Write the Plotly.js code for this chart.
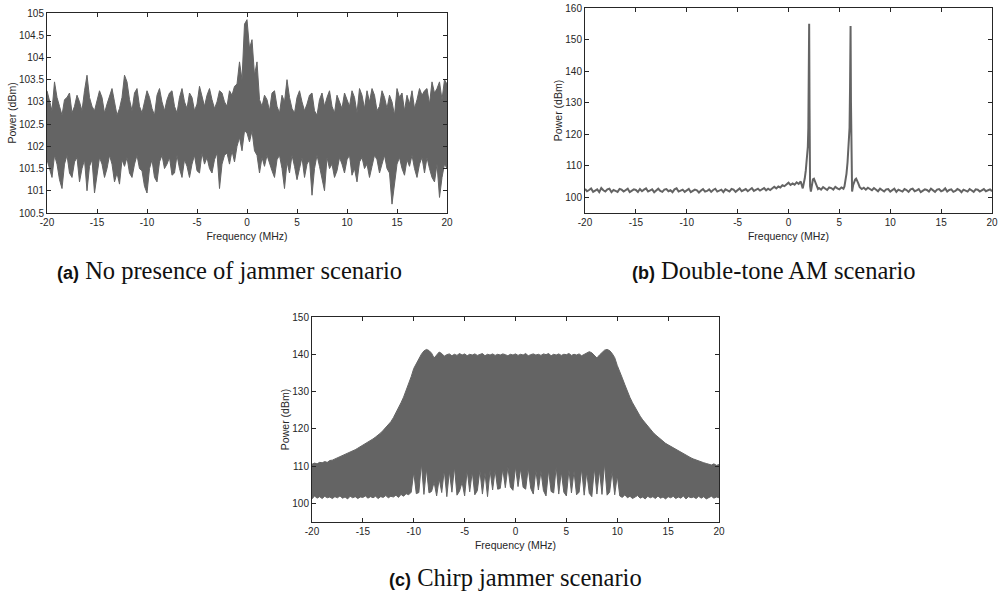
<!DOCTYPE html>
<html>
<head>
<meta charset="utf-8">
<script src="https://cdn.plot.ly/plotly-3.0.1.min.js"></script>
<style>html,body{margin:0;padding:0;background:#fff;}#chart{width:999px;height:592px;}</style>
</head>
<body>
<div id="chart"></div>
<script>
// ---------- DATA ----------
// (a) No jammer: upper / lower envelope of the spectrum, x = -20..20 step 0.25 MHz
const upperA = [
103.25,103.0,102.8,103.45,103.1,102.9,102.7,103.05,
103.1,103.2,102.75,102.9,103.15,103.0,102.8,103.25,
103.6,103.1,102.9,102.8,103.0,103.25,103.1,102.75,
102.95,103.15,103.3,103.0,102.7,102.85,103.1,103.6,
103.45,103.05,102.8,103.2,103.3,102.9,102.75,103.0,
103.25,103.1,102.85,102.7,103.15,103.3,103.0,102.8,
103.05,103.2,103.25,102.9,102.75,103.1,103.3,103.0,
102.85,103.2,103.1,102.8,102.95,103.35,103.1,102.9,
103.15,103.3,103.05,102.85,103.0,103.25,103.2,103.0,
102.9,103.25,103.15,103.35,103.4,103.9,103.5,104.75,
104.85,104.2,104.4,103.6,103.9,103.05,102.9,103.15,
103.05,102.8,103.2,103.25,102.9,102.75,103.15,103.0,
103.5,103.1,102.85,102.75,103.1,103.25,103.0,102.8,
102.95,103.15,103.2,102.8,102.7,103.05,103.2,102.9,
103.1,103.25,102.9,102.75,103.15,103.0,102.85,103.2,
103.05,102.9,103.25,103.1,102.75,103.3,103.15,102.85,
103.25,103.0,103.3,103.15,102.8,102.9,103.25,103.1,
102.85,103.15,103.0,102.7,103.3,103.1,103.2,102.8,
103.15,102.95,103.25,102.85,103.05,103.3,103.15,103.25,
103.3,102.95,103.45,103.2,103.3,103.45,103.05,103.5,
103.4];
const lowerA = [
101.7,101.5,101.3,101.8,101.6,101.25,101.05,101.6,
101.8,101.4,101.3,101.65,101.75,101.2,101.5,101.7,
101.0,101.55,101.7,100.95,101.4,101.75,101.6,101.3,
101.5,101.8,101.6,101.2,101.4,101.15,101.7,101.55,
101.75,101.4,101.3,101.6,101.8,101.5,101.45,101.1,
100.95,101.5,101.7,101.3,101.2,101.65,101.8,101.5,
101.6,101.75,101.35,101.4,101.8,101.5,101.3,101.7,
101.55,101.3,101.6,101.8,101.45,101.4,101.85,101.6,
101.75,101.5,101.4,101.7,101.85,101.05,101.6,101.8,
101.85,101.6,101.9,101.65,102.0,102.2,101.9,102.35,
102.3,102.1,102.35,101.9,101.8,101.4,101.75,101.55,
101.8,101.6,101.45,101.3,101.7,101.8,101.5,101.05,
101.65,101.4,101.8,101.55,101.25,101.5,101.75,101.3,
101.6,101.7,100.9,101.5,101.8,101.55,101.3,101.0,
101.75,101.5,101.6,101.3,101.45,101.75,101.6,101.4,
101.7,101.8,101.35,101.5,101.2,101.65,101.75,101.5,
101.6,101.3,101.55,101.8,101.7,101.4,101.6,101.8,
101.5,101.4,100.7,101.1,101.6,101.75,101.5,101.35,
101.7,101.55,101.8,101.5,101.3,101.6,101.75,101.4,
101.75,101.5,101.3,101.2,101.6,100.85,101.3,101.6,
101.5];

// (b) Double-tone AM: spectrum line
const yB_left = [ // x = -20 .. 1.4 step 0.2
102.6,101.9,102.3,102.8,101.7,102.1,102.5,101.6,102.9,102.2,
101.8,102.5,102.7,101.6,102.3,102.0,101.7,102.6,102.4,101.8,
102.2,102.7,101.6,102.0,102.5,102.3,101.7,102.6,101.9,102.4,
102.8,101.8,102.1,102.5,101.6,102.3,102.7,102.0,101.7,102.4,
102.6,101.9,102.2,101.6,102.5,102.8,101.8,102.1,102.4,101.7,
102.3,102.6,101.6,101.9,102.4,102.2,101.5,102.1,102.6,101.8,
102.0,102.5,101.7,102.3,102.7,101.8,102.1,102.4,101.6,102.5,
102.2,101.8,102.6,102.4,101.7,102.3,102.8,101.9,102.2,102.6,
101.9,102.5,102.9,102.0,102.4,102.7,102.1,102.6,102.9,102.2,
102.7,102.3,102.9,103.3,102.8,103.4,103.1,103.8,103.5,104.1,
104.6,103.9,104.4,104.0,104.7,104.2,105.0,102.8];
const xB_peak1 = [1.5,1.6,1.7,1.8,1.9,1.95,2.0,2.03,2.07,2.12,2.2,2.3,2.4,2.5,2.6,2.7,2.8,2.9,3.0];
const yB_peak1 = [104.2,106.0,108.5,112.0,116.0,122.0,140.0,155.0,128.0,103.5,101.8,104.0,105.7,105.9,105.2,104.3,103.3,102.6,102.9];
const yB_mid = [102.4,103.2,102.7,102.3,103.1,102.9,102.4,103.3,102.8,102.5,103.1,102.7]; // x = 3.2 .. 5.4 step 0.2
const xB_peak2 = [5.5,5.6,5.7,5.8,5.9,6.0,6.05,6.1,6.14,6.18,6.25,6.35,6.45,6.55,6.65,6.75,6.85,7.0,7.2,7.4];
const yB_peak2 = [103.4,105.0,107.5,111.0,116.0,122.0,135.0,154.3,130.0,104.0,101.8,103.8,105.0,105.6,105.9,105.4,104.5,103.2,102.6,103.0];
const yB_right = [ // x = 7.6 .. 20 step 0.2
102.4,103.0,102.6,102.2,102.9,102.5,101.9,102.7,102.3,101.8,
102.5,102.6,101.8,102.2,102.7,101.7,102.4,102.1,101.8,102.6,
102.3,101.7,102.5,102.7,101.9,102.2,102.6,101.6,102.0,102.5,
102.3,101.8,102.7,102.1,101.7,102.4,102.6,101.9,102.2,102.8,
101.8,102.3,102.5,101.7,102.0,102.6,102.3,101.6,102.4,102.1,
101.8,102.6,102.2,101.7,102.5,102.4,101.8,102.1,102.6,101.9,
102.3,102.5,101.9];

// (c) Chirp jammer: upper / lower envelope, x = -20..20 step 0.25 MHz
const upperC = [
110.5,110.8,110.6,111.0,110.9,111.2,111.0,111.5,
111.6,111.9,112.2,112.4,112.8,113.0,113.4,113.8,
114.0,114.4,114.8,115.2,115.5,115.9,116.3,116.8,
117.3,117.8,118.3,118.9,119.6,120.3,121.0,121.9,
123.0,124.2,125.5,127.0,128.5,130.2,132.0,134.0,
136.2,137.6,138.9,140.0,140.9,141.3,141.0,140.3,
139.0,139.8,140.6,140.2,139.5,139.9,140.1,139.6,
140.0,139.7,140.2,139.8,140.1,139.6,140.0,139.8,
140.1,139.7,139.9,140.2,139.6,140.0,139.8,140.1,
139.7,140.0,139.8,140.1,139.9,139.6,140.0,139.8,
140.1,139.7,140.0,139.8,140.2,139.6,139.9,140.1,
139.8,140.0,139.7,140.1,139.9,140.2,139.6,140.0,
139.8,140.1,139.7,140.0,139.9,140.2,139.7,140.0,
139.8,140.1,139.6,140.0,140.3,140.7,140.4,139.6,
139.0,139.8,140.6,141.1,141.3,141.0,140.2,139.1,
137.0,135.5,133.6,131.8,130.0,128.4,127.0,125.7,
124.5,123.4,122.4,121.5,120.6,119.8,119.1,118.4,
117.8,117.2,116.6,116.1,115.7,115.3,114.9,114.5,
114.0,113.6,113.2,112.8,112.5,112.2,111.9,111.6,
111.4,111.1,110.9,110.7,110.5,110.3,110.6,110.2,
110.4];
const lowerC = [
101.2,102.0,101.4,101.8,101.3,101.9,101.5,101.7,
101.3,101.8,101.5,102.0,101.4,101.7,101.2,101.9,
101.5,101.8,101.3,101.7,101.6,102.0,101.4,101.8,
101.5,101.9,101.3,101.8,101.6,102.1,101.5,101.9,
101.7,102.2,101.6,102.4,101.9,102.6,102.3,103.0,
108.4,102.6,102.9,110.7,102.4,109.3,102.8,103.2,
105.7,102.0,106.6,102.9,108.9,101.8,108.6,103.0,
109.8,102.2,103.3,105.7,102.0,108.9,103.1,108.5,
102.3,103.4,108.9,102.5,108.2,101.8,108.9,103.6,
108.9,103.8,104.0,109.3,104.2,109.8,104.4,103.5,
109.8,104.5,109.3,104.3,103.8,109.5,104.0,102.5,
108.9,103.6,108.6,103.4,102.0,108.9,103.2,102.8,
109.8,102.5,108.5,103.0,102.0,109.0,102.8,108.6,
102.3,103.0,109.3,102.2,108.4,102.7,101.8,109.5,
102.5,108.9,102.4,110.7,102.2,103.0,108.6,102.3,
107.5,
102.0,101.6,102.3,101.5,101.9,101.3,101.8,102.1,
101.4,101.7,101.2,101.9,101.5,101.8,101.3,102.0,
101.4,101.7,101.2,101.8,101.5,101.9,101.3,101.7,
101.4,102.0,101.2,101.8,101.5,101.7,101.3,101.9,
101.4,101.8,101.2,101.6,101.9,101.4,101.7,101.5];

const xTicks = [-20,-15,-10,-5,0,5,10,15,20];
const yTicksA = [100.5,101,101.5,102,102.5,103,103.5,104,104.5,105];
const yTicksB = [100,110,120,130,140,150,160];
const yTicksC = [100,110,120,130,140,150];
const captions = ['(a)','No presence of jammer scenario','(b)','Double-tone AM scenario','(c)','Chirp jammer scenario'];

// ---------- BUILD ----------
function grid(a, step, n){ const g=[]; for(let i=0;i<n;i++) g.push(Math.round((a+i*step)*1000)/1000); return g; }
const xEnv = grid(-20, 0.25, 161);
const xB = grid(-20,0.2,yB_left.length).concat(xB_peak1, grid(3.2,0.2,yB_mid.length), xB_peak2, grid(7.6,0.2,yB_right.length));
const yB = yB_left.concat(yB_peak1, yB_mid, yB_peak2, yB_right);

const C = '#646464';
const traces = [
  {x:xEnv, y:upperA, xaxis:'x', yaxis:'y', mode:'lines', line:{color:C,width:1}, hoverinfo:'skip', showlegend:false},
  {x:xEnv, y:lowerA, xaxis:'x', yaxis:'y', mode:'lines', line:{color:C,width:1}, fill:'tonexty', fillcolor:C, showlegend:false},
  {x:xB, y:yB, xaxis:'x2', yaxis:'y2', mode:'lines', line:{color:C,width:2}, showlegend:false},
  {x:xEnv, y:upperC, xaxis:'x3', yaxis:'y3', mode:'lines', line:{color:C,width:1}, hoverinfo:'skip', showlegend:false},
  {x:xEnv, y:lowerC, xaxis:'x3', yaxis:'y3', mode:'lines', line:{color:C,width:1}, fill:'tonexty', fillcolor:C, showlegend:false}
];

const W=999, H=592;
const tf = {family:'Liberation Sans, Arial, sans-serif', size:10, color:'#262626'};
function xax(l, r, anchor){
  return {domain:[l/W, r/W], anchor:anchor, range:[-20,20], tickvals:xTicks, ticktext:xTicks.map(String),
    showline:true, linecolor:'#262626', linewidth:1, mirror:'ticks', ticks:'inside', ticklen:4, tickcolor:'#262626',
    tickfont:tf, showgrid:false, zeroline:false, fixedrange:true,
    title:{text:'Frequency (MHz)', font:{family:tf.family, size:10.5, color:'#262626'}, standoff:5}};
}
function yax(top, bot, anchor, range, vals){
  return {domain:[1-bot/H, 1-top/H], anchor:anchor, range:range, tickvals:vals, ticktext:vals.map(String),
    showline:true, linecolor:'#262626', linewidth:1, mirror:'ticks', ticks:'inside', ticklen:4, tickcolor:'#262626',
    tickfont:tf, showgrid:false, zeroline:false, fixedrange:true,
    title:{text:'Power (dBm)', font:{family:tf.family, size:10.5, color:'#262626'}, standoff:0}};
}
function cap(i, cx, cy){
  return {xref:'paper', yref:'paper', x:cx/W, y:1-cy/H, xanchor:'center', yanchor:'middle', showarrow:false,
    text:'<span style="font-family:Liberation Sans, Arial, sans-serif;font-size:18px;font-weight:bold">'+captions[2*i]+'</span> '+captions[2*i+1],
    font:{family:'Liberation Serif, Times New Roman, serif', size:24.5, color:'#111'}};
}
const layout = {
  width:W, height:H, margin:{l:0,r:0,t:0,b:0}, paper_bgcolor:'#fff', plot_bgcolor:'#fff', showlegend:false,
  xaxis: xax(47, 447, 'y'),
  yaxis: yax(13, 213, 'x', [100.5,105], yTicksA),
  xaxis2: xax(585, 992, 'y2'),
  yaxis2: yax(8, 213, 'x2', [95,160], yTicksB),
  xaxis3: xax(312, 719, 'y3'),
  yaxis3: yax(317, 522, 'x3', [95,150], yTicksC),
  annotations:[cap(0,229,270), cap(1,774,270), cap(2,515,577)]
};
Plotly.newPlot('chart', traces, layout, {staticPlot:true, displayModeBar:false});
</script>
</body>
</html>
